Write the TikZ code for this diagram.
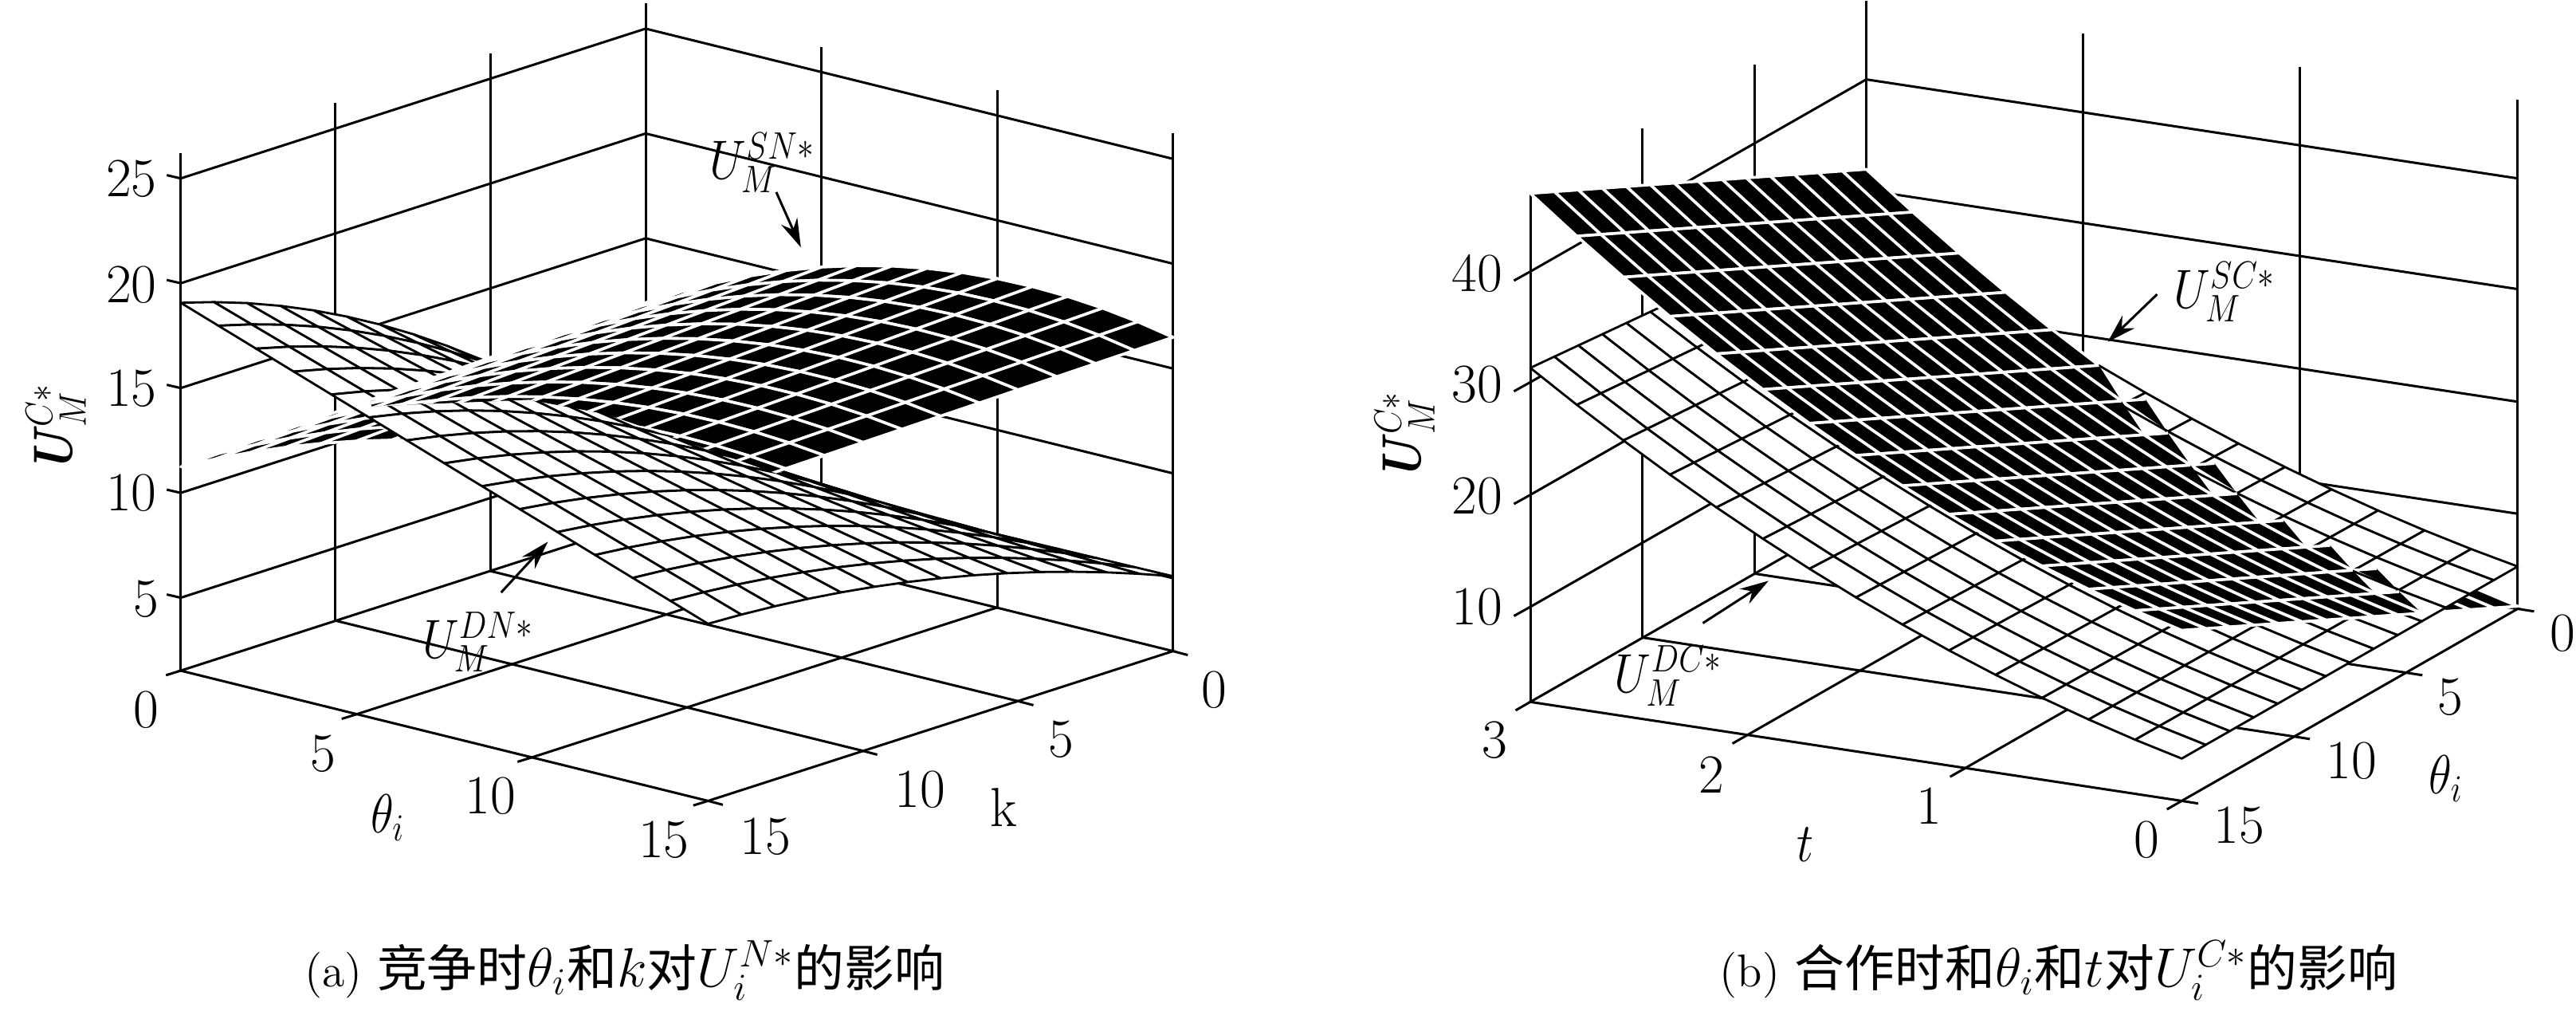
\documentclass[tikz,border=0pt]{standalone}
\usepackage{fontspec}
\usepackage{graphicx}
\usetikzlibrary{arrows.meta}
\newfontfamily\cjk[Scale=0.91]{Noto Sans CJK SC}
\newcommand{\slimtext}[1]{\scalebox{0.86}[1]{#1}}
\tikzset{
wallline/.style={line width=0.75pt,black},
blackmesh/.style={fill=black,draw=white,line width=0.9pt,line join=round},
whitemesh/.style={fill=white,draw=black,line width=0.7pt,line join=round},
pointer/.style={-{Stealth[length=9pt,width=5.5pt]},line width=0.75pt},
ticklabel/.style={font=\fontsize{17.28}{20}\selectfont,inner sep=0pt},
surflabel/.style={font=\fontsize{17.28}{20}\selectfont,inner sep=0pt},
captionlabel/.style={font=\fontsize{14.4}{17}\selectfont,inner sep=0pt,anchor=west}
}
% one sheet of cells, back to front
\newcommand{\meshcell}[2]{\filldraw[#1] ({panelx(\ta,\ua)},{panely(\ta,\ua)-#2(\ta,\ua)}) -- ({panelx(\tb,\ua)},{panely(\tb,\ua)-#2(\tb,\ua)}) -- ({panelx(\tb,\ub)},{panely(\tb,\ub)-#2(\tb,\ub)}) -- ({panelx(\ta,\ub)},{panely(\ta,\ub)-#2(\ta,\ub)}) -- cycle;}
\newcommand{\cellindex}[4]{\pgfmathsetmacro\ta{(#1-1)/#3}\pgfmathsetmacro\tb{#1/#3}\pgfmathsetmacro\ua{(#2-1)/#4}\pgfmathsetmacro\ub{#2/#4}}
\newcommand{\meshsheet}[4]{\foreach \ci in {1,...,#3}{\foreach \cj in {#4,...,1}{\cellindex{\ci}{\cj}{#3}{#4}\meshcell{#1}{#2}}}}
% half a black cell where the sheets cross
\newcommand{\meshtooth}{\fill[black] ({panelx(\ta,\ua)},{panely(\ta,\ua)-highmesh(\ta,\ua)}) -- ({panelx(\tb,\ua)},{panely(\tb,\ua)-highmesh(\tb,\ua)}) -- ({panelx(\ta,\ub)},{panely(\ta,\ub)-highmesh(\ta,\ub)}) -- cycle;
\draw[white,line width=0.9pt] ({panelx(\tb,\ua)},{panely(\tb,\ua)-highmesh(\tb,\ua)}) -- ({panelx(\ta,\ua)},{panely(\ta,\ua)-highmesh(\ta,\ua)}) -- ({panelx(\ta,\ub)},{panely(\ta,\ub)-highmesh(\ta,\ub)});}
% both sheets, the lower cell first
\newcommand{\meshboth}[1]{\foreach \ci in {1,...,#1}{\foreach \cj in {#1,...,1}{\cellindex{\ci}{\cj}{#1}{#1}
\pgfmathsetmacro\gapa{highmesh(\ta,\ua)-lowmesh(\ta,\ua)}
\pgfmathsetmacro\gapc{highmesh(\tb,\ub)-lowmesh(\tb,\ub)}
\ifdim\gapa pt>0pt
\ifdim\gapc pt<0pt \meshcell{whitemesh}{lowmesh}\meshtooth
\else \meshcell{whitemesh}{lowmesh}\meshcell{blackmesh}{highmesh}\fi
\else \meshcell{blackmesh}{highmesh}\meshcell{whitemesh}{lowmesh}\fi}}}
\begin{document}
\begin{tikzpicture}[x=0.2577pt,y=-0.2042pt]
\useasboundingbox (0,0) rectangle (3136,1577);

% panel a
\begin{scope}[declare function={
panelx(\s,\r)=220+642*\s+566*\r;
panely(\s,\r)=1030+200*\s-230*\r;
highmesh(\s,\r)=(1-\r)*(313+400*\s-243*\s*\s)+\r*(335+473*\s-326*\s*\s);
lowmesh(\s,\r)=(1-\s)*(565-196*\r-261*\r*\r)+\s*(272-23*\r-134*\r*\r);
}]
\draw[wallline] (220,1030)--(862,1230)--(1428,1000)--(786,800)--cycle;
\draw[wallline] (434,1097)--(1000,867) (648,1163)--(1214,933);
\draw[wallline] (408,953)--(1050,1153) (597,877)--(1240,1077);
\foreach \wx/\wy in {220/1030,408/953,597/877,786/800,1000/867,1214/933,1428/1000}{\draw[wallline] (\wx,\wy)--(\wx,\wy-795);}
\foreach \wy in {918,757,596,435,274}{\draw[wallline] (203,\wy-5)--(220,\wy)--(786,\wy-230)--(1428,\wy-30);}
\foreach \wx/\wy in {220/1030,434/1097,648/1163,862/1230}{\draw[wallline] (\wx,\wy)--(\wx-18,\wy+7);}
\foreach \wx/\wy in {862/1230,1050/1153,1240/1077,1428/1000}{\draw[wallline] (\wx,\wy)--(\wx+18,\wy+6);}
\meshsheet{blackmesh}{highmesh}{15}{12}
\meshsheet{whitemesh}{lowmesh}{14}{14}
\begin{scope}
\clip (452,624)--(644,614)--(738,636)--(970,738)--(1500,738)--(1500,300)--(452,300)--cycle;
\meshsheet{blackmesh}{highmesh}{15}{12}
\end{scope}
\foreach \tn/\tx/\ty in {25/160/275,20/160/437,15/160/597,10/160/757,5/178/920}{\node[ticklabel] (az\tn) at (\tx,\ty){\tn};}
\foreach \tn/\tx/\ty in {0/178/1090,5/393/1157,10/597/1222,15/808/1290}{\node[ticklabel] (at\tn) at (\tx,\ty){\tn};}
\foreach \tn/\tx/\ty in {15/932/1285,10/1120/1213,5/1292/1135,0/1478/1060}{\node[ticklabel] (ak\tn) at (\tx,\ty){\tn};}
\node[surflabel,rotate=90] (azname) at (68,658){\slimtext{\textbf{\textit{U}}$_M^{C*}$}};
\node[surflabel] (atname) at (472,1256){\slimtext{$\theta_i$}};
\node[ticklabel] (akname) at (1222,1240){k};
\node[surflabel] (asn) at (928,250){\slimtext{$U_M^{SN*}$}};
\node[surflabel] (adn) at (582,986){\slimtext{$U_M^{DN*}$}};
\coordinate (asnfrom) at (945,295);\coordinate (asnto) at (975,380);
\coordinate (adnfrom) at (610,910);\coordinate (adnto) at (667,832);
\draw[pointer] (asnfrom)--(asnto);
\draw[pointer] (adnfrom)--(adnto);
\node[captionlabel] (acap) at (370,1490){(a) \fontsize{17.28}{20}\selectfont\cjk 竞争时$\theta_i$和$k$对$U_i^{N*}$的影响};
\end{scope}

% panel b
\begin{scope}[shift={(1568,0)},declare function={
panelx(\s,\r)=295+793*\s+409*\r;
panely(\s,\r)=1078+152*\s-295*\r;
highmesh(\s,\r)=262+251*(1-\s)+268*(1-\s)*(1-\s)-258*\r;
lowmesh(\s,\r)=65+(1-0.12*\r)*(238*(1-\s)+210*(1-\s)*(1-\s));
}]
\draw[wallline] (295,1078)--(1088,1230)--(1497,935)--(704,783)--cycle;
\draw[wallline] (559,1129)--(968,834) (824,1180)--(1232,885);
\draw[wallline] (1361,1033)--(568,881) (1224,1131)--(431,979);
\foreach \wx/\wy in {295/1078,431/979,568/881,704/783,968/834,1232/885,1497/935}{\draw[wallline] (\wx,\wy)--(\wx,\wy-782);}
\foreach \wy in {932,760,587,417}{\draw[wallline] (275,\wy+14)--(295,\wy)--(704,\wy-295)--(1497,\wy-143);}
\foreach \wx/\wy in {295/1078,559/1129,824/1180,1088/1230}{\draw[wallline] (\wx,\wy)--(\wx-18,\wy+13);}
\foreach \wx/\wy in {1088/1230,1224/1131,1361/1033,1497/935}{\draw[wallline] (\wx,\wy)--(\wx+20,\wy+4);}
\meshboth{14}
\foreach \tn/\tx/\ty in {40/230/420,30/230/590,20/230/762,10/230/932}{\node[ticklabel] (bz\tn) at (\tx,\ty){\tn};}
\foreach \tn/\tx/\ty in {3/252/1137,2/516/1190,1/780/1238,0/1045/1290}{\node[ticklabel] (bt\tn) at (\tx,\ty){\tn};}
\foreach \tn/\tx/\ty in {15/1158/1268,10/1295/1168,5/1415/1070,0/1552/972}{\node[ticklabel] (bq\tn) at (\tx,\ty){\tn};}
\node[surflabel,rotate=90] (bzname) at (142,670){\slimtext{\textbf{\textit{U}}$_M^{C*}$}};
\node[surflabel] (btname) at (630,1297){\slimtext{$t$}};
\node[surflabel] (bqname) at (1410,1196){\slimtext{$\theta_i$}};
\node[surflabel] (bsc) at (1140,448){\slimtext{$U_M^{SC*}$}};
\node[surflabel] (bdc) at (463,1038){\slimtext{$U_M^{DC*}$}};
\coordinate (bscfrom) at (1058,452);\coordinate (bscto) at (998,525);
\coordinate (bdcfrom) at (505,957);\coordinate (bdcto) at (585,892);
\draw[pointer] (bscfrom)--(bscto);
\draw[pointer] (bdcfrom)--(bdcto);
\node[captionlabel] (bcap) at (525,1490){(b) \fontsize{17.28}{20}\selectfont\cjk 合作时和$\theta_i$和$t$对$U_i^{C*}$的影响};
\end{scope}
\end{tikzpicture}
\end{document}
